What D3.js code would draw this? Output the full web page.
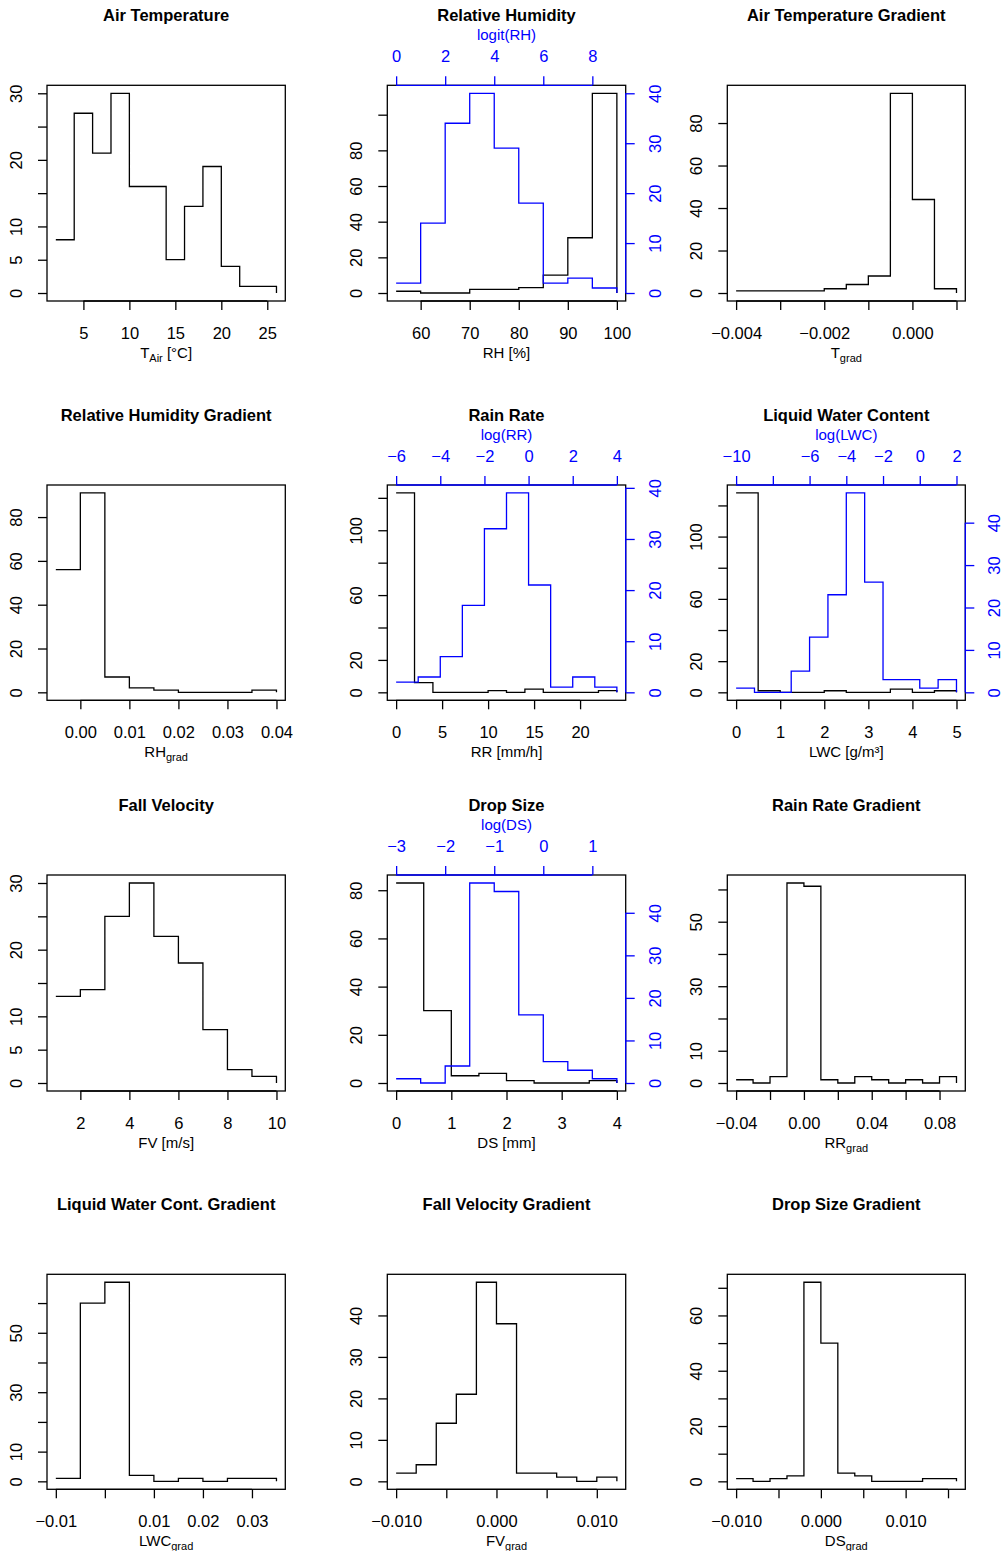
<!DOCTYPE html>
<html>
<head>
<meta charset="UTF-8">
<script src="https://cdn.jsdelivr.net/npm/d3@7"></script>
<style>
  body { margin: 0; background: #fff; }
  svg text { font-family: "Liberation Sans", Arial, Helvetica, sans-serif; }
</style>
</head>
<body>
<script>
// ---- data (bin edges + counts) ----
var tairBreaks = [2, 4, 6, 8, 10, 12, 14, 16, 18, 20, 22, 24, 26];
var tairCounts = [8, 27, 21, 30, 16, 16, 5, 13, 19, 4, 1, 1];

var rhBreaks = [55, 60, 65, 70, 75, 80, 85, 90, 95, 100];
var rhCounts = [1, 0, 0, 2, 2, 3, 10, 31, 112];
var logitRhBreaks = [0, 1, 2, 3, 4, 5, 6, 7, 8, 9];
var logitRhCounts = [2, 14, 34, 40, 29, 18, 2, 3, 1];

var tgradBreaks = [-0.004, -0.0035, -0.003, -0.0025, -0.002, -0.0015, -0.001, -0.0005, 0, 0.0005, 0.001];
var tgradCounts = [1, 1, 1, 1, 2, 4, 8, 94, 44, 2];

var rhgradBreaks = [-0.005, 0, 0.005, 0.01, 0.015, 0.02, 0.025, 0.03, 0.035, 0.04];
var rhgradCounts = [56, 91, 7, 2, 1, 0, 0, 0, 1];

var rrBreaks = [0, 2, 4, 6, 8, 10, 12, 14, 16, 18, 20, 22, 24];
var rrCounts = [123, 6, 0, 0, 0, 1, 0, 2, 0, 0, 0, 1];
var logRrBreaks = [-6, -5, -4, -3, -2, -1, 0, 1, 2, 3, 4];
var logRrCounts = [2, 3, 7, 17, 32, 39, 21, 1, 3, 1];

var lwcBreaks = [0, 0.5, 1, 1.5, 2, 2.5, 3, 3.5, 4, 4.5, 5];
var lwcCounts = [128, 1, 0, 0, 1, 0, 0, 2, 0, 1];
var logLwcBreaks = [-10, -9, -8, -7, -6, -5, -4, -3, -2, -1, 0, 1, 2];
var logLwcCounts = [1, 0, 0, 5, 13, 23, 47, 26, 3, 3, 1, 3];

var fvBreaks = [1, 2, 3, 4, 5, 6, 7, 8, 9, 10];
var fvCounts = [13, 14, 25, 30, 22, 18, 8, 2, 1];

var dsBreaks = [0, 0.5, 1, 1.5, 2, 2.5, 3, 3.5, 4];
var dsCounts = [83, 30, 3, 4, 1, 0, 0, 1];
var logDsBreaks = [-3, -2.5, -2, -1.5, -1, -0.5, 0, 0.5, 1, 1.5];
var logDsCounts = [1, 0, 4, 47, 45, 16, 5, 3, 1];

var rrgradBreaks = [-0.04, -0.03, -0.02, -0.01, 0, 0.01, 0.02, 0.03, 0.04, 0.05, 0.06, 0.07, 0.08, 0.09];
var rrgradCounts = [1, 0, 2, 62, 61, 1, 0, 2, 1, 0, 1, 0, 2];

var lwcgradBreaks = [-0.01, -0.005, 0, 0.005, 0.01, 0.015, 0.02, 0.025, 0.03, 0.035];
var lwcgradCounts = [1, 60, 67, 2, 0, 1, 0, 1, 1];

var fvgradBreaks = [-0.01, -0.008, -0.006, -0.004, -0.002, 0, 0.002, 0.004, 0.006, 0.008, 0.01, 0.012];
var fvgradCounts = [2, 4, 14, 21, 48, 38, 2, 2, 1, 0, 1];

var dsgradBreaks = [-0.01, -0.008, -0.006, -0.004, -0.002, 0, 0.002, 0.004, 0.006, 0.008, 0.01, 0.012, 0.014, 0.016];
var dsgradCounts = [1, 0, 1, 2, 72, 50, 3, 2, 0, 0, 0, 1, 1];

// tick values / labels ("" = tick without label)
var M = "\u2212";
var panels = [
  {title: "Air Temperature", breaks: tairBreaks, counts: tairCounts,
   xTicks: [5, 10, 15, 20, 25], xLabels: ["5", "10", "15", "20", "25"],
   yTicks: [0, 5, 10, 15, 20, 25, 30], yLabels: ["0", "5", "10", "", "20", "", "30"],
   xlab: ["T", "Air", " [\u00B0C]"]},
  {title: "Relative Humidity", breaks: rhBreaks, counts: rhCounts,
   xTicks: [60, 70, 80, 90, 100], xLabels: ["60", "70", "80", "90", "100"],
   yTicks: [0, 20, 40, 60, 80, 100], yLabels: ["0", "20", "40", "60", "80", ""],
   xlab: ["RH [%]", "", ""],
   blue: {breaks: logitRhBreaks, counts: logitRhCounts, label: "logit(RH)",
          xTicks: [0, 2, 4, 6, 8], xLabels: ["0", "2", "4", "6", "8"],
          yTicks: [0, 10, 20, 30, 40], yLabels: ["0", "10", "20", "30", "40"]}},
  {title: "Air Temperature Gradient", breaks: tgradBreaks, counts: tgradCounts,
   xTicks: [-0.004, -0.003, -0.002, -0.001, 0, 0.001], xLabels: [M + "0.004", "", M + "0.002", "", "0.000", ""],
   yTicks: [0, 20, 40, 60, 80], yLabels: ["0", "20", "40", "60", "80"],
   xlab: ["T", "grad", ""]},
  {title: "Relative Humidity Gradient", breaks: rhgradBreaks, counts: rhgradCounts,
   xTicks: [0, 0.01, 0.02, 0.03, 0.04], xLabels: ["0.00", "0.01", "0.02", "0.03", "0.04"],
   yTicks: [0, 20, 40, 60, 80], yLabels: ["0", "20", "40", "60", "80"],
   xlab: ["RH", "grad", ""]},
  {title: "Rain Rate", breaks: rrBreaks, counts: rrCounts,
   xTicks: [0, 5, 10, 15, 20], xLabels: ["0", "5", "10", "15", "20"],
   yTicks: [0, 20, 40, 60, 80, 100, 120], yLabels: ["0", "20", "", "60", "", "100", ""],
   xlab: ["RR [mm/h]", "", ""],
   blue: {breaks: logRrBreaks, counts: logRrCounts, label: "log(RR)",
          xTicks: [-6, -4, -2, 0, 2, 4], xLabels: [M + "6", M + "4", M + "2", "0", "2", "4"],
          yTicks: [0, 10, 20, 30, 40], yLabels: ["0", "10", "20", "30", "40"]}},
  {title: "Liquid Water Content", breaks: lwcBreaks, counts: lwcCounts,
   xTicks: [0, 1, 2, 3, 4, 5], xLabels: ["0", "1", "2", "3", "4", "5"],
   yTicks: [0, 20, 40, 60, 80, 100, 120], yLabels: ["0", "20", "", "60", "", "100", ""],
   xlab: ["LWC [g/m\u00B3]", "", ""],
   blue: {breaks: logLwcBreaks, counts: logLwcCounts, label: "log(LWC)",
          xTicks: [-10, -8, -6, -4, -2, 0, 2], xLabels: [M + "10", "", M + "6", M + "4", M + "2", "0", "2"],
          yTicks: [0, 10, 20, 30, 40], yLabels: ["0", "10", "20", "30", "40"]}},
  {title: "Fall Velocity", breaks: fvBreaks, counts: fvCounts,
   xTicks: [2, 4, 6, 8, 10], xLabels: ["2", "4", "6", "8", "10"],
   yTicks: [0, 5, 10, 15, 20, 25, 30], yLabels: ["0", "5", "10", "", "20", "", "30"],
   xlab: ["FV [m/s]", "", ""]},
  {title: "Drop Size", breaks: dsBreaks, counts: dsCounts,
   xTicks: [0, 1, 2, 3, 4], xLabels: ["0", "1", "2", "3", "4"],
   yTicks: [0, 20, 40, 60, 80], yLabels: ["0", "20", "40", "60", "80"],
   xlab: ["DS [mm]", "", ""],
   blue: {breaks: logDsBreaks, counts: logDsCounts, label: "log(DS)",
          xTicks: [-3, -2, -1, 0, 1], xLabels: [M + "3", M + "2", M + "1", "0", "1"],
          yTicks: [0, 10, 20, 30, 40], yLabels: ["0", "10", "20", "30", "40"]}},
  {title: "Rain Rate Gradient", breaks: rrgradBreaks, counts: rrgradCounts,
   xTicks: [-0.04, -0.02, 0, 0.02, 0.04, 0.06, 0.08], xLabels: [M + "0.04", "", "0.00", "", "0.04", "", "0.08"],
   yTicks: [0, 10, 20, 30, 40, 50, 60], yLabels: ["0", "10", "", "30", "", "50", ""],
   xlab: ["RR", "grad", ""]},
  {title: "Liquid Water Cont. Gradient", breaks: lwcgradBreaks, counts: lwcgradCounts,
   xTicks: [-0.01, 0, 0.01, 0.02, 0.03], xLabels: [M + "0.01", "", "0.01", "0.02", "0.03"],
   yTicks: [0, 10, 20, 30, 40, 50, 60], yLabels: ["0", "10", "", "30", "", "50", ""],
   xlab: ["LWC", "grad", ""]},
  {title: "Fall Velocity Gradient", breaks: fvgradBreaks, counts: fvgradCounts,
   xTicks: [-0.01, -0.005, 0, 0.005, 0.01], xLabels: [M + "0.010", "", "0.000", "", "0.010"],
   yTicks: [0, 10, 20, 30, 40], yLabels: ["0", "10", "20", "30", "40"],
   xlab: ["FV", "grad", ""]},
  {title: "Drop Size Gradient", breaks: dsgradBreaks, counts: dsgradCounts,
   xTicks: [-0.01, -0.005, 0, 0.005, 0.01, 0.015], xLabels: [M + "0.010", "", "0.000", "", "0.010", ""],
   yTicks: [0, 10, 20, 30, 40, 50, 60, 70], yLabels: ["0", "", "20", "", "40", "", "60", ""],
   xlab: ["DS", "grad", ""]}
];

// ---- layout ----
var W = 1005, H = 1551;
var colL = [47, 387.3, 727.3], colR = [285.3, 625.7, 965.3];
var rowT = [85.3, 485, 875, 1274.3], rowB = [301, 700.3, 1091, 1489.3];
var tickFont = 16.5, labFont = 15, lw = 1.3, tickLen = 9;
var BLUE = "#0000ff";

var svg = d3.select("body").append("svg")
    .attr("width", W).attr("height", H)
    .style("background", "#fff");

function padded(lo, hi) {
  var d = hi - lo;
  return [lo - 0.04 * d, hi + 0.04 * d];
}

function stepPoints(breaks, counts) {
  return breaks.map(function(b, i) { return [b, i < counts.length ? counts[i] : 0]; });
}

function styleAxis(g, color) {
  g.attr("font-size", null).attr("font-family", null);
  g.select(".domain").remove();
  g.selectAll(".tick line").attr("stroke", color).attr("stroke-width", lw);
  g.selectAll(".tick text").attr("fill", color).style("font-size", tickFont + "px");
}

panels.forEach(function(p, i) {
  var col = i % 3, row = Math.floor(i / 3);
  var L = colL[col], R = colR[col], T = rowT[row], B = rowB[row];
  var g = svg.append("g");

  var x = d3.scaleLinear().domain(padded(p.breaks[0], p.breaks[p.breaks.length - 1])).range([L, R]);
  var y = d3.scaleLinear().domain(padded(0, d3.max(p.counts))).range([B, T]);

  // title
  g.append("text").attr("x", (L + R) / 2).attr("y", T - 64)
    .attr("text-anchor", "middle").style("font-size", "16.5px").style("font-weight", "bold")
    .text(p.title);

  // bottom axis
  var gx = g.append("g").attr("transform", "translate(0," + B + ")")
    .call(d3.axisBottom(x).tickValues(p.xTicks).tickFormat(function(d, k) { return p.xLabels[k]; })
      .tickSize(tickLen).tickSizeOuter(0));
  styleAxis(gx, "#000");
  gx.selectAll(".tick text").attr("y", 38).attr("dy", null);
  g.append("line").attr("x1", x(p.xTicks[0])).attr("x2", x(p.xTicks[p.xTicks.length - 1]))
    .attr("y1", B).attr("y2", B).attr("stroke", "#000").attr("stroke-width", lw);

  // left axis
  var gy = g.append("g").attr("transform", "translate(" + L + ",0)")
    .call(d3.axisLeft(y).tickValues(p.yTicks).tickFormat(function(d, k) { return p.yLabels[k]; })
      .tickSize(tickLen).tickSizeOuter(0));
  styleAxis(gy, "#000");
  gy.selectAll(".tick text").attr("x", null).attr("dy", null)
    .attr("text-anchor", "middle").attr("transform", "translate(-25,0) rotate(-90)");

  // x label with optional subscript
  var xl = g.append("text").attr("x", (L + R) / 2).attr("y", B + 57)
    .attr("text-anchor", "middle").style("font-size", labFont + "px");
  xl.append("tspan").text(p.xlab[0]);
  if (p.xlab[1]) {
    xl.append("tspan").attr("dy", 4).style("font-size", "11px").text(p.xlab[1]);
    if (p.xlab[2]) xl.append("tspan").attr("dy", -4).text(p.xlab[2]);
  }

  // box
  g.append("rect").attr("x", L).attr("y", T).attr("width", R - L).attr("height", B - T)
    .attr("fill", "none").attr("stroke", "#000").attr("stroke-width", lw);

  // black histogram outline
  var line = d3.line().x(function(d) { return x(d[0]); }).y(function(d) { return y(d[1]); })
    .curve(d3.curveStepAfter);
  g.append("path").datum(stepPoints(p.breaks, p.counts)).attr("d", line)
    .attr("fill", "none").attr("stroke", "#000").attr("stroke-width", lw);

  if (p.blue) {
    var b = p.blue;
    var xb = d3.scaleLinear().domain(padded(b.breaks[0], b.breaks[b.breaks.length - 1])).range([L, R]);
    var yb = d3.scaleLinear().domain(padded(0, d3.max(b.counts))).range([B, T]);
    var lineB = d3.line().x(function(d) { return xb(d[0]); }).y(function(d) { return yb(d[1]); })
      .curve(d3.curveStepAfter);
    g.append("path").datum(stepPoints(b.breaks, b.counts)).attr("d", lineB)
      .attr("fill", "none").attr("stroke", BLUE).attr("stroke-width", lw);

    // top axis
    var gt = g.append("g").attr("transform", "translate(0," + T + ")")
      .call(d3.axisTop(xb).tickValues(b.xTicks).tickFormat(function(d, k) { return b.xLabels[k]; })
        .tickSize(tickLen).tickSizeOuter(0));
    styleAxis(gt, BLUE);
    gt.selectAll(".tick text").attr("y", -23).attr("dy", null);
    g.append("line").attr("x1", xb(b.xTicks[0])).attr("x2", xb(b.xTicks[b.xTicks.length - 1]))
      .attr("y1", T).attr("y2", T).attr("stroke", BLUE).attr("stroke-width", lw);
    g.append("text").attr("x", (L + R) / 2).attr("y", T - 45)
      .attr("text-anchor", "middle").attr("fill", BLUE).style("font-size", labFont + "px")
      .text(b.label);

    // right axis
    var gr = g.append("g").attr("transform", "translate(" + R + ",0)")
      .call(d3.axisRight(yb).tickValues(b.yTicks).tickFormat(function(d, k) { return b.yLabels[k]; })
        .tickSize(tickLen).tickSizeOuter(0));
    styleAxis(gr, BLUE);
    gr.selectAll(".tick text").attr("x", null).attr("dy", null)
      .attr("text-anchor", "middle").attr("transform", "translate(35,0) rotate(-90)");
    g.append("line").attr("x1", R).attr("x2", R)
      .attr("y1", yb(b.yTicks[0])).attr("y2", yb(b.yTicks[b.yTicks.length - 1]))
      .attr("stroke", BLUE).attr("stroke-width", lw);
  }
});
</script>
</body>
</html>
